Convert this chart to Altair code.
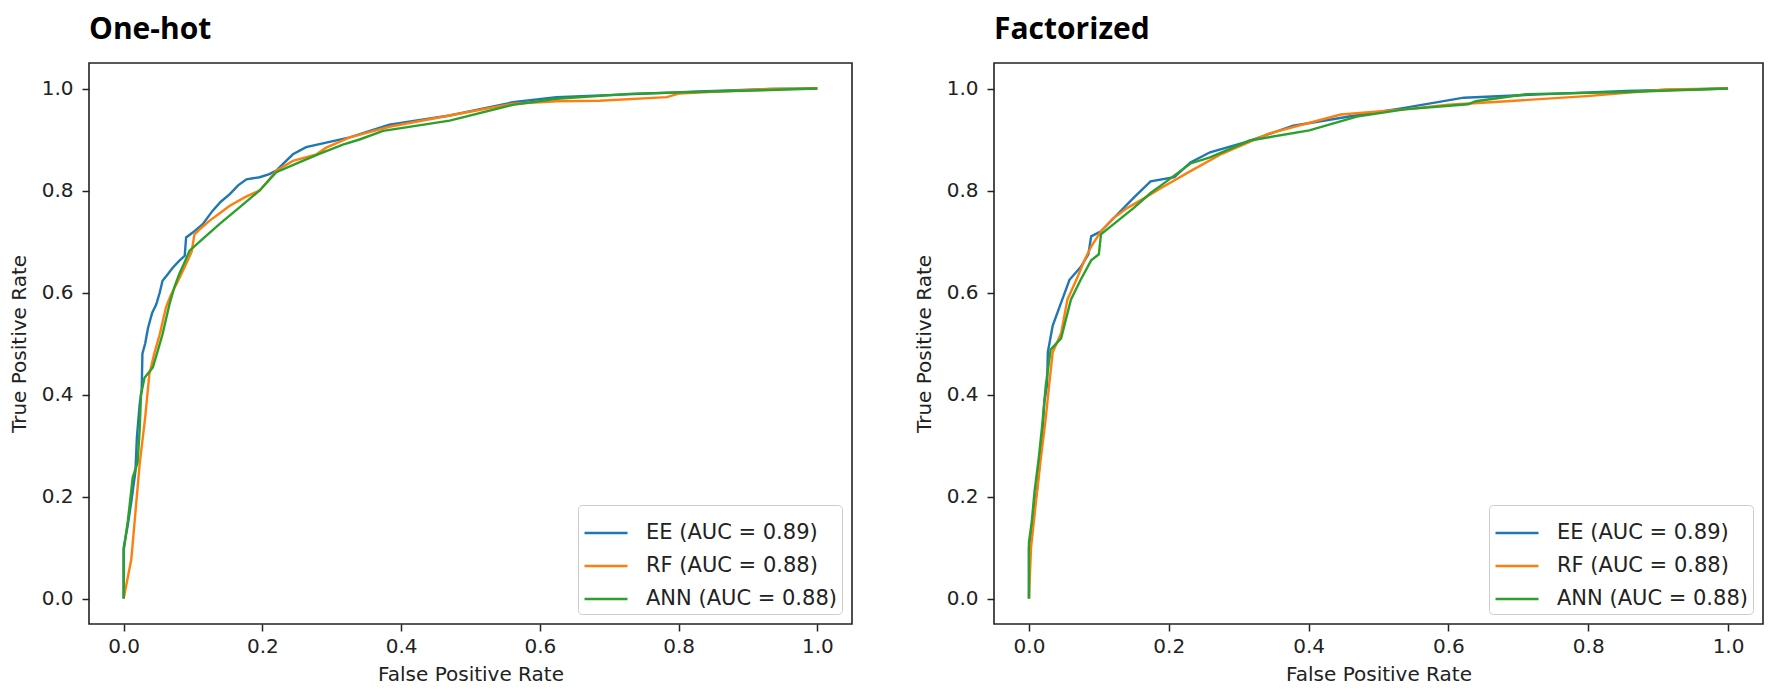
import altair as alt
import pandas as pd

SERIES = ["EE (AUC = 0.89)", "RF (AUC = 0.88)", "ANN (AUC = 0.88)"]
COLORS = ["#1f77b4", "#ff7f0e", "#2ca02c"]
TICKS = [0.0, 0.2, 0.4, 0.6, 0.8, 1.0]
TITLES = ["One-hot", "Factorized"]

# (fpr, tpr) points, One-hot panel
ONEHOT_EE = [(0, 0), (0, 0.10), (0.006, 0.145), (0.011, 0.19), (0.017, 0.25), (0.019, 0.315),
             (0.023, 0.38), (0.026, 0.41), (0.027, 0.48), (0.031, 0.50), (0.035, 0.53),
             (0.041, 0.56), (0.047, 0.577), (0.052, 0.60), (0.056, 0.623), (0.063, 0.635),
             (0.071, 0.649), (0.080, 0.662), (0.088, 0.672), (0.090, 0.708), (0.100, 0.718),
             (0.114, 0.734), (0.128, 0.760), (0.140, 0.778), (0.153, 0.793), (0.165, 0.810),
             (0.177, 0.822), (0.196, 0.826), (0.210, 0.832), (0.220, 0.839), (0.232, 0.855),
             (0.244, 0.871), (0.263, 0.885), (0.292, 0.894), (0.326, 0.904), (0.383, 0.929),
             (0.470, 0.947), (0.561, 0.973), (0.624, 0.983), (0.735, 0.989), (0.831, 0.994),
             (0.932, 0.999), (1.0, 1.0)]
ONEHOT_RF = [(0, 0), (0.011, 0.077), (0.017, 0.17), (0.023, 0.263), (0.031, 0.355),
             (0.037, 0.44), (0.044, 0.48), (0.052, 0.518), (0.061, 0.571), (0.068, 0.595),
             (0.076, 0.616), (0.083, 0.636), (0.090, 0.656), (0.098, 0.68), (0.102, 0.714),
             (0.113, 0.728), (0.124, 0.741), (0.138, 0.755), (0.153, 0.770), (0.175, 0.787),
             (0.196, 0.80), (0.210, 0.822), (0.220, 0.839), (0.244, 0.858), (0.278, 0.871),
             (0.292, 0.884), (0.326, 0.904), (0.383, 0.925), (0.470, 0.947), (0.561, 0.970),
             (0.624, 0.975), (0.686, 0.976), (0.783, 0.983), (0.800, 0.990), (0.932, 0.999),
             (1.0, 1.0)]
ONEHOT_ANN = [(0, 0), (0, 0.094), (0.006, 0.152), (0.010, 0.20), (0.013, 0.237), (0.020, 0.266),
              (0.023, 0.33), (0.025, 0.40), (0.030, 0.433), (0.042, 0.453), (0.050, 0.49),
              (0.056, 0.518), (0.066, 0.577), (0.073, 0.61), (0.080, 0.636), (0.088, 0.66),
              (0.095, 0.682), (0.114, 0.705), (0.138, 0.734), (0.167, 0.767), (0.196, 0.80),
              (0.220, 0.836), (0.253, 0.855), (0.282, 0.872), (0.316, 0.89), (0.340, 0.90),
              (0.374, 0.917), (0.470, 0.937), (0.561, 0.968), (0.624, 0.980), (0.735, 0.990),
              (0.850, 0.994), (0.932, 0.997), (1.0, 1.0)]

# (fpr, tpr) points, Factorized panel
FACT_EE = [(0, 0), (0, 0.10), (0.006, 0.16), (0.012, 0.217), (0.019, 0.32), (0.022, 0.385),
           (0.026, 0.42), (0.027, 0.483), (0.034, 0.535), (0.046, 0.58), (0.058, 0.625),
           (0.074, 0.65), (0.085, 0.675), (0.089, 0.71), (0.103, 0.72), (0.127, 0.754),
           (0.150, 0.786), (0.174, 0.818), (0.208, 0.826), (0.231, 0.855), (0.259, 0.875),
           (0.310, 0.895), (0.378, 0.927), (0.458, 0.945), (0.537, 0.962), (0.622, 0.982),
           (0.741, 0.989), (0.854, 0.995), (1.0, 1.0)]
FACT_RF = [(0, 0), (0.003, 0.10), (0.010, 0.19), (0.017, 0.275), (0.024, 0.353), (0.029, 0.42),
           (0.034, 0.483), (0.046, 0.52), (0.055, 0.586), (0.070, 0.632), (0.080, 0.665),
           (0.089, 0.69), (0.103, 0.72), (0.120, 0.745), (0.141, 0.766), (0.165, 0.785),
           (0.189, 0.805), (0.231, 0.838), (0.276, 0.872), (0.344, 0.912), (0.446, 0.949),
           (0.537, 0.959), (0.600, 0.968), (0.684, 0.975), (0.798, 0.985), (0.911, 0.998),
           (1.0, 1.0)]
FACT_ANN = [(0, 0), (0, 0.11), (0.004, 0.15), (0.008, 0.21), (0.014, 0.275), (0.019, 0.34),
            (0.024, 0.417), (0.031, 0.488), (0.046, 0.51), (0.060, 0.586), (0.074, 0.625),
            (0.089, 0.663), (0.100, 0.675), (0.103, 0.714), (0.122, 0.735), (0.150, 0.766),
            (0.174, 0.795), (0.191, 0.812), (0.231, 0.853), (0.259, 0.865), (0.316, 0.898),
            (0.401, 0.918), (0.469, 0.945), (0.537, 0.959), (0.628, 0.969), (0.639, 0.975),
            (0.713, 0.989), (0.854, 0.993), (1.0, 1.0)]


def to_frame(curves):
    rows = []
    for name, pts in zip(SERIES, curves):
        for i, (f, t) in enumerate(pts):
            rows.append({"model": name, "fpr": f, "tpr": t, "idx": i})
    return pd.DataFrame(rows)


def panel(curves, title, width):
    df = to_frame(curves)
    return (
        alt.Chart(
            df,
            title=alt.Title(title, anchor="start", frame="group", font="Open Sans",
                            fontSize=30, fontWeight="bold", color="black", offset=18),
        )
        .mark_line(strokeWidth=2.4)
        .encode(
            x=alt.X("fpr:Q",
                    scale=alt.Scale(domain=[-0.05, 1.05], nice=False, zero=False),
                    axis=alt.Axis(values=TICKS, format=".1f", title="False Positive Rate")),
            y=alt.Y("tpr:Q",
                    scale=alt.Scale(domain=[-0.05, 1.05], nice=False, zero=False),
                    axis=alt.Axis(values=TICKS, format=".1f", title="True Positive Rate")),
            color=alt.Color("model:N",
                            scale=alt.Scale(domain=SERIES, range=COLORS),
                            legend=alt.Legend(title=None, orient="bottom-right", offset=10)),
            order=alt.Order("idx:Q"),
        )
        .properties(width=width, height=561)
    )


left = panel([ONEHOT_EE, ONEHOT_RF, ONEHOT_ANN], TITLES[0], 763)
right = panel([FACT_EE, FACT_RF, FACT_ANN], TITLES[1], 769)

chart = (
    alt.hconcat(left, right, spacing=60,
                padding={"top": 6, "left": 0, "right": 0, "bottom": 0})
    .resolve_legend(color="independent")
    .configure_view(stroke="#222222", strokeWidth=1.6)
    .configure_axis(
        labelFont="DejaVu Sans", labelFontSize=20, labelColor="#222222",
        titleFont="DejaVu Sans", titleFontSize=20, titleFontWeight="normal",
        titleColor="#222222", tickColor="#222222", tickSize=7, tickWidth=1.5,
        domain=False, grid=False,
    )
    .configure_axisX(labelPadding=5, titlePadding=8)
    .configure_axisY(labelPadding=9, titlePadding=12)
    .configure_legend(
        labelFont="DejaVu Sans", labelFontSize=21, labelColor="#222222",
        symbolType="stroke", symbolSize=1849, symbolStrokeWidth=2.5,
        labelOffset=17, padding=5, rowPadding=-13.5,
        strokeColor="#cccccc", fillColor="white", cornerRadius=4, labelLimit=400,
    )
)

chart.save("out.html", embed_options={"renderer": "svg", "actions": False})
